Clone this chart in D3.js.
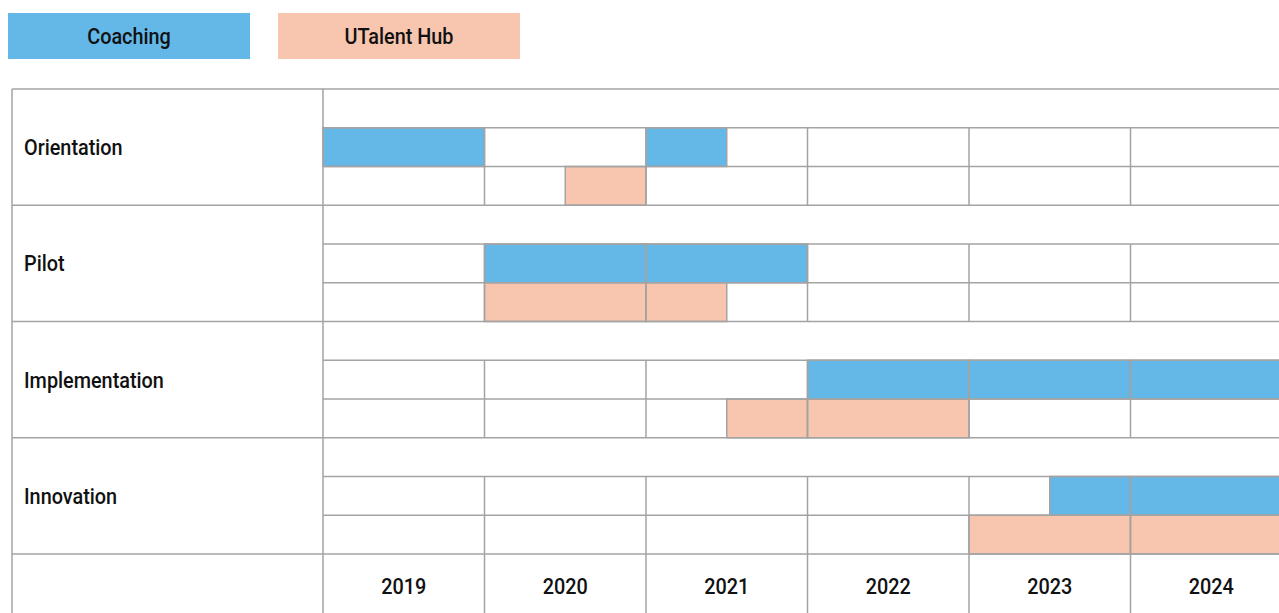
<!DOCTYPE html>
<html>
<head>
<meta charset="utf-8">
<script src="https://cdn.jsdelivr.net/npm/d3@7"></script>
<style>
  html, body { margin: 0; padding: 0; background: #fff; overflow: hidden; }
  svg { display: block; }
  text { font-family: Roboto, "DejaVu Sans", sans-serif; font-weight: 500; fill: #111; }
</style>
</head>
<body>
<div id="chart"></div>
<script>
const phases = ["Orientation", "Pilot", "Implementation", "Innovation"];
const years = [2019, 2020, 2021, 2022, 2023, 2024];
const legendItems = ["Coaching", "UTalent Hub"];

// [phase, start, end] in years (half-year steps)
const coachingBars = [
  ["Orientation", 2019, 2020], ["Orientation", 2021, 2021.5],
  ["Pilot", 2020, 2021], ["Pilot", 2021, 2022],
  ["Implementation", 2022, 2023], ["Implementation", 2023, 2024], ["Implementation", 2024, 2025],
  ["Innovation", 2023.5, 2024], ["Innovation", 2024, 2025]
];
const hubBars = [
  ["Orientation", 2020.5, 2021],
  ["Pilot", 2020, 2021], ["Pilot", 2021, 2021.5],
  ["Implementation", 2021.5, 2022], ["Implementation", 2022, 2023],
  ["Innovation", 2023, 2024], ["Innovation", 2024, 2025]
];

const width = 1279, height = 613;
const colors = { "Coaching": "#63b8e8", "UTalent Hub": "#f8c5af" };
const gridColor = "#a3a3a3";
const fontSize = 22;

const left = 12, labelRight = 323;
const x = d3.scaleLinear().domain([2019, 2025]).range([labelRight, 1292]);
const y = d3.scaleBand().domain(phases).range([89, 554]);
const sub = y.bandwidth() / 3;

const svg = d3.select("#chart").append("svg")
  .attr("width", width).attr("height", height);

// bars
function drawBars(data, key, offset) {
  svg.append("g").selectAll("rect")
    .data(data)
    .join("rect")
    .attr("x", d => x(d[1]))
    .attr("y", d => y(d[0]) + sub * offset)
    .attr("width", d => x(d[2]) - x(d[1]))
    .attr("height", sub)
    .attr("fill", colors[key])
    .attr("stroke", gridColor)
    .attr("stroke-width", 1.5);
}
drawBars(coachingBars, "Coaching", 1);
drawBars(hubBars, "UTalent Hub", 2);

// grid
const grid = svg.append("g")
  .attr("stroke", gridColor).attr("stroke-width", 1.5).attr("fill", "none");

const bottom = height + 10;
[...phases.map(p => y(p)), y.range()[1]].forEach(yy => {
  grid.append("line").attr("x1", left).attr("x2", width + 20).attr("y1", yy).attr("y2", yy);
});
phases.forEach(p => {
  [1, 2].forEach(k => {
    grid.append("line").attr("x1", labelRight).attr("x2", width + 20)
      .attr("y1", y(p) + sub * k).attr("y2", y(p) + sub * k);
  });
  years.forEach(yr => {
    grid.append("line").attr("x1", x(yr + 1)).attr("x2", x(yr + 1))
      .attr("y1", y(p) + sub).attr("y2", y(p) + y.bandwidth());
  });
});
[left, labelRight].forEach(xx => {
  grid.append("line").attr("x1", xx).attr("x2", xx).attr("y1", y.range()[0]).attr("y2", bottom);
});
years.forEach(yr => {
  grid.append("line").attr("x1", x(yr + 1)).attr("x2", x(yr + 1))
    .attr("y1", y.range()[1]).attr("y2", bottom);
});

// all texts go through a narrow (condensed) horizontal scale
const texts = [];
function label(parent, tx, ty, anchor, str) {
  const t = parent.append("text")
    .attr("text-anchor", anchor)
    .attr("font-size", fontSize)
    .text(str);
  texts.push({ t, tx, ty });
  return t;
}

legendItems.forEach((name, i) => {
  const g = svg.append("g").attr("transform", `translate(${8 + i * 270},13)`);
  g.append("rect").attr("width", 242).attr("height", 46).attr("fill", colors[name]);
  label(g, 121, 31, "middle", name);
});
phases.forEach(p => label(svg, 24, y(p) + y.bandwidth() / 2 + 8, "start", p));
years.forEach(yr => label(svg, x(yr + 0.5), 594, "middle", yr));

// condense factor: the widest label should be ~140px wide
const probe = texts.find(d => d.t.text() === "Implementation").t.node().getComputedTextLength();
const sx = Math.min(1, 140 / probe);
texts.forEach(({ t, tx, ty }) => {
  t.attr("transform", `translate(${tx},${ty}) scale(${sx},1)`);
});
</script>
</body>
</html>
